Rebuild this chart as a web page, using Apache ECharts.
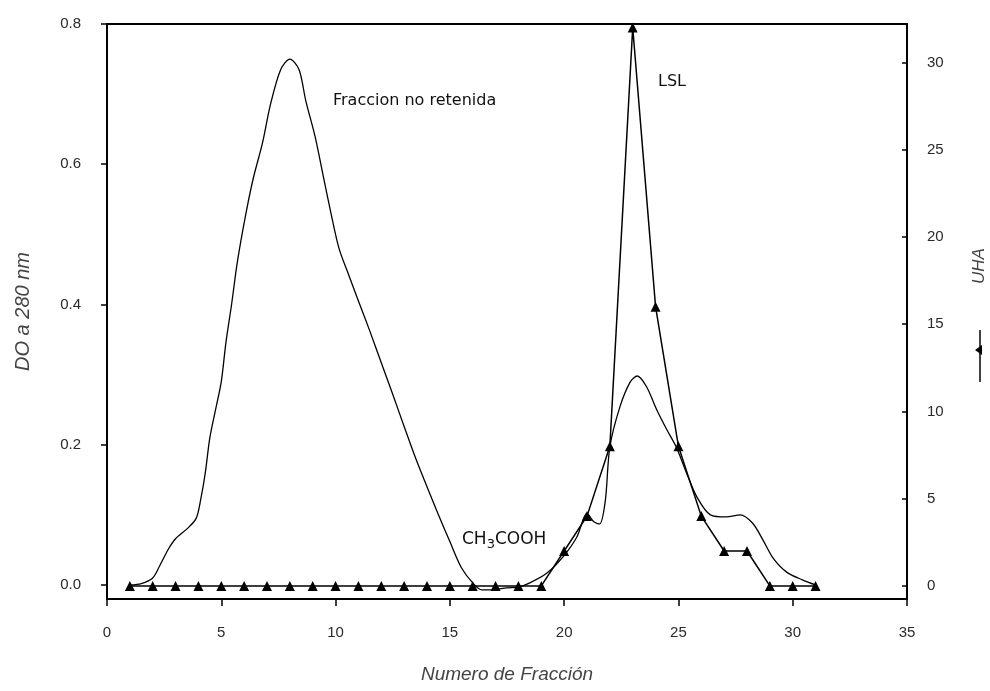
<!DOCTYPE html>
<html>
<head>
<meta charset="utf-8">
<script src="https://cdn.jsdelivr.net/npm/echarts@6/dist/echarts.min.js"></script>
<style>
  html, body { margin: 0; background: #fff; }
  #chart { width: 990px; height: 691px; }
</style>
</head>
<body>
<div id="chart"></div>
<script>
// DO a 280 nm (eje izquierdo)
const doFractions = [1, 1.5, 2, 2.3, 2.7, 3, 3.5, 3.9, 4.1, 4.3, 4.5, 4.75, 5, 5.2, 5.45, 5.7, 6.05, 6.4, 6.8, 7.15, 7.6, 8,
  8.4, 8.7, 9.1, 9.45, 9.8, 10.15, 10.6, 11, 11.5, 12, 12.5, 13, 13.5, 14, 14.5, 15, 15.5, 16, 16.4, 16.8, 17.5, 18,
  18.5, 19.25, 19.95, 20.55, 21, 21.3, 21.55, 21.8, 22, 22.45, 22.9, 23.2, 23.6, 24.05, 24.5, 24.9, 25.35, 25.8,
  26.4, 27.1, 27.7, 28.25, 28.7, 29.15, 29.75, 30.45, 31]
const doValues = [0, 0.002, 0.01, 0.027, 0.052, 0.066, 0.08, 0.095, 0.122, 0.16, 0.21, 0.25, 0.29, 0.345, 0.4, 0.46, 0.525, 0.58, 0.63, 0.685, 0.735, 0.75,
  0.735, 0.69, 0.64, 0.585, 0.53, 0.48, 0.44, 0.405, 0.362, 0.317, 0.272, 0.226, 0.181, 0.14, 0.1, 0.062, 0.025, 0.003, -0.007, -0.007, -0.004, -0.003,
  0.003, 0.017, 0.04, 0.068, 0.102, 0.09, 0.087, 0.12, 0.197, 0.255, 0.29, 0.298, 0.283, 0.25, 0.221, 0.197, 0.16, 0.126,
  0.1, 0.097, 0.1, 0.088, 0.064, 0.038, 0.018, 0.007, 0]

// UHA (eje derecho)
const uhaFractions = [1, 2, 3, 4, 5, 6, 7, 8, 9, 10, 11, 12, 13, 14, 15, 16, 17, 18, 19, 20, 21, 22, 23, 24, 25, 26, 27, 28, 29, 30, 31]
const uhaValues = [0, 0, 0, 0, 0, 0, 0, 0, 0, 0, 0, 0, 0, 0, 0, 0, 0, 0, 0, 2, 4, 8, 32, 16, 8, 4, 2, 2, 0, 0, 0]

const leftTicks = [0, 0.2, 0.4, 0.6, 0.8]
const rightTicks = [0, 5, 10, 15, 20, 25, 30]

const chart = echarts.init(document.getElementById('chart'))

const labelFont = { color: '#2a2a2a', fontFamily: 'Liberation Sans', fontSize: 15 }
const nameFont = { color: '#444', fontFamily: 'Liberation Sans', fontSize: 19, fontStyle: 'italic' }
const noteFont = { fill: '#111', fontFamily: 'DejaVu Sans', fontSize: 16 }

const option = {
  backgroundColor: '#fff',
  animation: false,
  grid: {
    left: 107, right: 83, top: 24, bottom: 92,
    show: true, borderColor: '#000', borderWidth: 2,
  },
  xAxis: {
    type: 'value',
    min: 0, max: 35, interval: 5,
    name: 'Numero de Fracción',
    nameLocation: 'middle',
    nameGap: 66,
    nameTextStyle: nameFont,
    axisLine: { show: true, onZero: false, lineStyle: { color: '#000', width: 2 } },
    axisTick: { show: true, length: 7, lineStyle: { color: '#000', width: 1.5 } },
    axisLabel: { ...labelFont, margin: 26 },
    splitLine: { show: false },
  },
  yAxis: [
    {
      type: 'value',
      min: -0.02, max: 0.8,
      name: 'DO a 280 nm',
      nameLocation: 'middle',
      nameGap: 74,
      nameRotate: 90,
      nameTextStyle: { ...nameFont, fontSize: 20 },
      axisLine: { show: true, onZero: false, lineStyle: { color: '#000', width: 2 } },
      axisTick: { show: true, length: 6, customValues: leftTicks, lineStyle: { color: '#000', width: 1.5 } },
      axisLabel: { ...labelFont, margin: 26, customValues: leftTicks, formatter: (v) => v.toFixed(1) },
      splitLine: { show: false },
    },
    {
      type: 'value',
      min: -0.75, max: 32.2,
      position: 'right',
      axisLine: { show: true, onZero: false, lineStyle: { color: '#000', width: 2 } },
      axisTick: { show: true, inside: true, length: 5, customValues: rightTicks, lineStyle: { color: '#000', width: 1.5 } },
      axisLabel: { ...labelFont, margin: 20, customValues: rightTicks },
      splitLine: { show: false },
    },
  ],
  series: [
    {
      name: 'DO',
      type: 'line',
      yAxisIndex: 0,
      data: doFractions.map((x, i) => [x, doValues[i]]),
      showSymbol: false,
      smooth: 0.3,
      lineStyle: { color: '#000', width: 1.3 },
      z: 2,
    },
    {
      name: 'UHA',
      type: 'line',
      yAxisIndex: 1,
      data: uhaFractions.map((x, i) => [x, uhaValues[i]]),
      symbol: 'triangle',
      symbolSize: 10,
      itemStyle: { color: '#000' },
      lineStyle: { color: '#000', width: 1.5 },
      z: 3,
    },
  ],
  graphic: [
    { type: 'text', left: 333, top: 93, style: { ...noteFont, text: 'Fraccion no retenida' } },
    { type: 'text', left: 658, top: 74, style: { ...noteFont, text: 'LSL' } },
    {
      type: 'text', left: 462, top: 531,
      style: {
        ...noteFont,
        fontSize: 17,
        text: 'CH{sub|3}COOH',
        rich: { sub: { fontFamily: 'DejaVu Sans', fontSize: 13, fill: '#111', padding: [10, 0, 0, 0] } },
      },
    },
    {
      type: 'text', x: 979, y: 266, rotation: Math.PI / 2,
      style: { ...nameFont, fontSize: 17, fill: '#444', text: 'UHA', align: 'center', verticalAlign: 'middle' },
    },
    // clave de la serie UHA
    { type: 'line', shape: { x1: 980, y1: 330, x2: 980, y2: 382 }, style: { stroke: '#000', lineWidth: 1.5 } },
    { type: 'polygon', shape: { points: [[975, 350], [982, 345], [982, 355]] }, style: { fill: '#000' } },
  ],
}

chart.setOption(option)
</script>
</body>
</html>
